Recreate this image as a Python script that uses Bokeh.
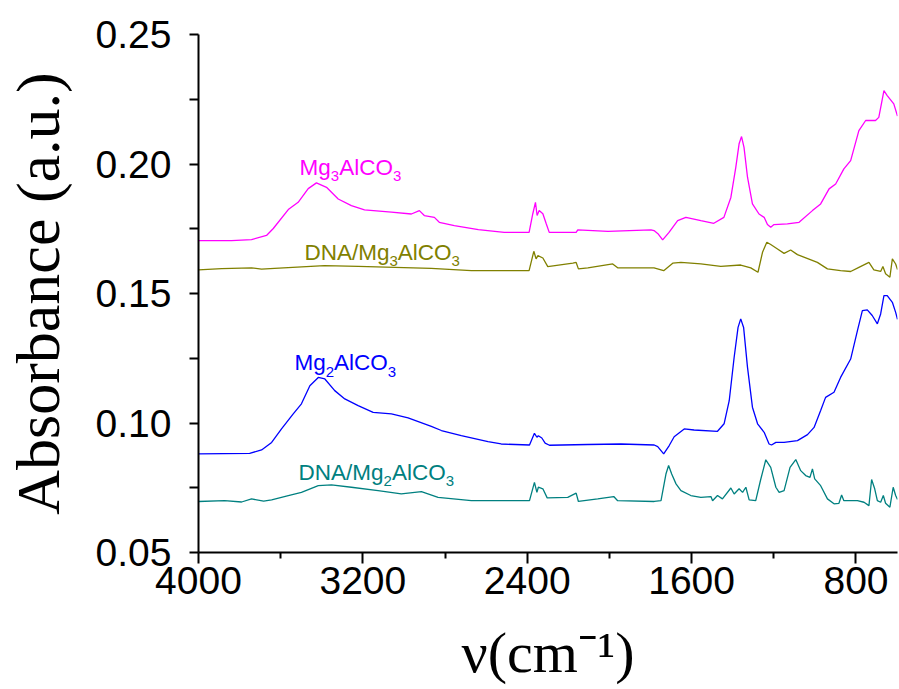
from bokeh.plotting import figure
from bokeh.models import Range1d, FixedTicker, Label, NumeralTickFormatter
from bokeh.embed import file_html
from bokeh.resources import INLINE

# ---------------- data ----------------
wn_mg3 = [4000, 3839, 3742, 3669, 3636, 3563, 3515, 3466, 3426, 3377, 3320, 3256, 3192, 3061,
          2964, 2925, 2901, 2852, 2828, 2755, 2638, 2512, 2391, 2373, 2360, 2352, 2342, 2324,
          2308, 2293, 2162, 2154, 2007, 1798, 1783, 1764, 1741, 1710, 1668, 1628, 1555, 1492,
          1443, 1409, 1385, 1369, 1357, 1345, 1328, 1304, 1272, 1247, 1231, 1215, 1199, 1134,
          1077, 1012, 972, 931, 899, 859, 826, 786, 753, 705, 689, 664, 648, 616, 598]
abs_mg3 = [0.1704, 0.1704, 0.1708, 0.1724, 0.1751, 0.1824, 0.1852, 0.1905, 0.1927, 0.1910,
           0.1865, 0.1839, 0.1823, 0.1814, 0.1807, 0.1820, 0.1801, 0.1794, 0.1775, 0.1762,
           0.1747, 0.1736, 0.1736, 0.1808, 0.1852, 0.1801, 0.1820, 0.1808, 0.1770, 0.1736,
           0.1736, 0.1746, 0.1740, 0.1746, 0.1743, 0.1731, 0.1707, 0.1736, 0.1781, 0.1794,
           0.1781, 0.1771, 0.1794, 0.1871, 0.1987, 0.2078, 0.2106, 0.2064, 0.1949, 0.1846,
           0.1807, 0.1794, 0.1766, 0.1756, 0.1766, 0.1769, 0.1775, 0.1820, 0.1846, 0.1904,
           0.1923, 0.1981, 0.2013, 0.2129, 0.2168, 0.2168, 0.2180, 0.2283, 0.2264, 0.2232, 0.2185]

wn_dna3 = [4000, 3887, 3742, 3693, 3630, 3387, 3222, 2867, 2672, 2391, 2368, 2357, 2348, 2324,
           2300, 2178, 2162, 2151, 2105, 1984, 1960, 1783, 1736, 1692, 1652, 1555, 1458, 1361,
           1312, 1277, 1255, 1234, 1215, 1182, 1150, 1118, 1085, 988, 939, 875, 826, 786, 737,
           713, 680, 669, 656, 635, 623, 607, 598]
abs_dna3 = [0.1591, 0.1596, 0.1599, 0.1594, 0.1597, 0.1608, 0.1605, 0.1597, 0.1588, 0.1588,
            0.1663, 0.1634, 0.1646, 0.1637, 0.1604, 0.1617, 0.1620, 0.1595, 0.1599, 0.1614,
            0.1599, 0.1599, 0.1588, 0.1617, 0.1620, 0.1614, 0.1605, 0.1610, 0.1599, 0.1582,
            0.1659, 0.1698, 0.1689, 0.1672, 0.1655, 0.1668, 0.1650, 0.1620, 0.1595, 0.1588,
            0.1585, 0.1601, 0.1620, 0.1591, 0.1585, 0.1604, 0.1576, 0.1563, 0.1634, 0.1614, 0.1592]

wn_mg2 = [4000, 3751, 3693, 3644, 3596, 3539, 3499, 3458, 3417, 3385, 3337, 3288, 3223, 3150,
          3061, 2980, 2867, 2818, 2721, 2591, 2527, 2389, 2365, 2353, 2346, 2329, 2313, 2292,
          2105, 1944, 1782, 1765, 1736, 1709, 1685, 1636, 1588, 1474, 1442, 1417, 1393, 1374,
          1361, 1347, 1328, 1304, 1279, 1247, 1223, 1211, 1190, 1150, 1085, 1036, 1004, 972,
          948, 907, 875, 826, 793, 769, 745, 721, 696, 680, 664, 648, 623, 607, 598]
abs_mg2 = [0.0881, 0.0883, 0.0896, 0.0925, 0.0977, 0.1035, 0.1074, 0.1144, 0.1176, 0.1170,
           0.1125, 0.1093, 0.1067, 0.1041, 0.1035, 0.1020, 0.0987, 0.0971, 0.0951, 0.0928,
           0.0919, 0.0915, 0.0960, 0.0945, 0.0951, 0.0942, 0.0922, 0.0914, 0.0917, 0.0919,
           0.0915, 0.0909, 0.0881, 0.0913, 0.0947, 0.0977, 0.0973, 0.0968, 0.0997, 0.1086,
           0.1254, 0.1369, 0.1402, 0.1369, 0.1215, 0.1061, 0.0997, 0.0964, 0.0919, 0.0915,
           0.0925, 0.0925, 0.0932, 0.0955, 0.0983, 0.1048, 0.1099, 0.1119, 0.1176, 0.1247,
           0.1357, 0.1434, 0.1437, 0.1415, 0.1383, 0.1421, 0.1492, 0.1492, 0.1466, 0.1427, 0.1400]

wn_dna2 = [4000, 3873, 3790, 3742, 3683, 3644, 3563, 3499, 3417, 3353, 3256, 3126, 3013, 2915,
           2834, 2672, 2389, 2365, 2353, 2346, 2324, 2303, 2203, 2162, 2151, 2057, 1979, 1960,
           1782, 1749, 1725, 1712, 1697, 1676, 1652, 1604, 1555, 1506, 1498, 1474, 1450, 1409,
           1393, 1369, 1352, 1336, 1320, 1288, 1265, 1239, 1215, 1190, 1174, 1150, 1121, 1093,
           1069, 1045, 1024, 1012, 1001, 972, 939, 907, 883, 870, 859, 793, 761, 737, 724, 709,
           696, 680, 667, 656, 635, 619, 607, 598]
abs_dna2 = [0.0697, 0.0700, 0.0695, 0.0707, 0.0698, 0.0703, 0.0720, 0.0732, 0.0758, 0.0761,
            0.0752, 0.0739, 0.0726, 0.0735, 0.0713, 0.0700, 0.0700, 0.0771, 0.0732, 0.0752,
            0.0746, 0.0711, 0.0713, 0.0729, 0.0697, 0.0707, 0.0716, 0.0700, 0.0697, 0.0700,
            0.0803, 0.0836, 0.0803, 0.0765, 0.0739, 0.0720, 0.0713, 0.0716, 0.0700, 0.0720,
            0.0707, 0.0749, 0.0726, 0.0746, 0.0732, 0.0752, 0.0703, 0.0700, 0.0778, 0.0858,
            0.0829, 0.0752, 0.0732, 0.0739, 0.0829, 0.0859, 0.0816, 0.0797, 0.0790, 0.0823,
            0.0784, 0.0758, 0.0707, 0.0688, 0.0690, 0.0722, 0.0700, 0.0700, 0.0694, 0.0681,
            0.0782, 0.0746, 0.0700, 0.0694, 0.0720, 0.0690, 0.0675, 0.0752, 0.0720, 0.0705]

x_major = [4000, 3200, 2400, 1600, 800]
x_minor = [3600, 2800, 2000, 1200]
y_major = [0.05, 0.10, 0.15, 0.20, 0.25]
y_minor = [0.075, 0.125, 0.175, 0.225]

series = [
    (wn_mg3, abs_mg3, "#FF00FF"),
    (wn_dna3, abs_dna3, "#808000"),
    (wn_mg2, abs_mg2, "#0000FF"),
    (wn_dna2, abs_dna2, "#008080"),
]

# label texts: (anchor wn, anchor absorbance, parts, colour)
labels = [
    (3508, 0.1987, [("Mg", False), ("3", True), ("AlCO", False), ("3", True)], "#FF00FF"),
    (3484, 0.1660, [("DNA/Mg", False), ("3", True), ("AlCO", False), ("3", True)], "#808000"),
    (3533, 0.1233, [("Mg", False), ("2", True), ("AlCO", False), ("3", True)], "#0000FF"),
    (3513, 0.0809, [("DNA/Mg", False), ("2", True), ("AlCO", False), ("3", True)], "#008080"),
]

# ---------------- figure ----------------
p = figure(width=898, height=688, output_backend="svg", toolbar_location=None,
           x_range=Range1d(4000, 598), y_range=Range1d(0.05, 0.25),
           min_border_left=197, min_border_right=1, min_border_top=34,
           min_border_bottom=136)
p.outline_line_color = None
p.grid.visible = False

for wn, a, c in series:
    p.line(wn, a, line_color=c, line_width=1.3)

xa = p.xaxis[0]
xa.ticker = FixedTicker(ticks=x_major, minor_ticks=x_minor)
xa.major_label_text_font = "Liberation Sans"
xa.major_label_text_font_size = "39px"
xa.major_label_text_color = "black"
xa.axis_line_width = 2
xa.major_tick_line_width = 2
xa.minor_tick_line_width = 2
xa.major_tick_out = 11
xa.major_tick_in = 0
xa.minor_tick_out = 6
xa.minor_tick_in = 0
xa.major_label_standoff = 3
xa.axis_label = "ν(cm⁻¹)"
xa.axis_label_text_font = "Liberation Serif"
xa.axis_label_text_font_size = "58px"
xa.axis_label_text_font_style = "normal"
xa.axis_label_text_color = "black"
xa.axis_label_standoff = 23

ya = p.yaxis[0]
ya.ticker = FixedTicker(ticks=y_major, minor_ticks=y_minor)
ya.formatter = NumeralTickFormatter(format="0.00")
ya.major_label_text_font = "Liberation Sans"
ya.major_label_text_font_size = "39px"
ya.major_label_text_color = "black"
ya.axis_line_width = 2
ya.major_tick_line_width = 2
ya.minor_tick_line_width = 2
ya.major_tick_out = 9
ya.major_tick_in = 0
ya.minor_tick_out = 9
ya.minor_tick_in = 0
ya.major_label_standoff = 18
ya.axis_label = "Absorbance (a.u.)"
ya.axis_label_text_font = "Liberation Serif"
ya.axis_label_text_font_size = "62px"
ya.axis_label_text_font_style = "normal"
ya.axis_label_text_color = "black"
ya.axis_label_standoff = 21

# formula labels with subscripts
W = {'M': .833, 'g': .556, 'A': .667, 'l': .222, 'C': .722, 'O': .778, 'D': .722,
     'N': .722, '/': .278, '2': .556, '3': .556}
for lx, ly, parts, col in labels:
    off = 0.0
    for txt, sub in parts:
        size = 15 if sub else 22.5
        p.add_layout(Label(x=lx, y=ly, x_offset=off, y_offset=-9 if sub else 0, text=txt,
                           text_color=col, text_font="Liberation Sans",
                           text_font_size=f"{size}px", text_baseline="alphabetic",
                           text_align="left"))
        off += sum(W[ch] for ch in txt) * size

open("out.html", "w").write(file_html(p, INLINE))
